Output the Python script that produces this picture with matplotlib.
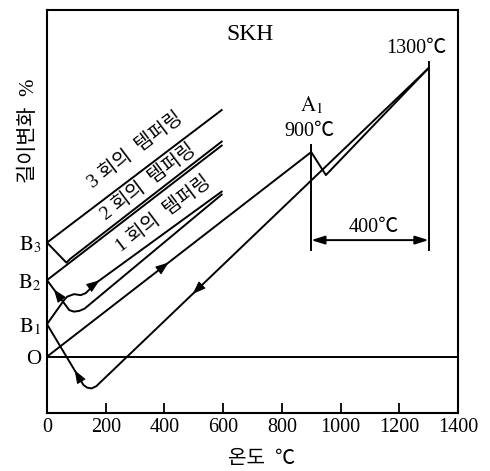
import matplotlib
matplotlib.use("Agg")
import matplotlib.pyplot as plt

plt.rcParams['font.family'] = ['Liberation Serif', 'Noto Sans CJK KR', 'DejaVu Sans']
plt.rcParams['mathtext.fontset'] = 'stix'

# 첫 가열 (O -> A1 -> 1300℃) 과 냉각 (1300℃ -> B1)
heat_T = [0, 900, 950, 1300]
heat_L = [0.0, 4.09, 3.63, 5.77]
cool_T = [1300, 168, 152, 137, 124, 0]
cool_L = [5.77, -0.59, -0.635, -0.62, -0.565, 0.65]

# 1회 템퍼링 (B1 -> 595 -> B2)
t1_heat_T = [0, 58, 69, 92, 115, 132, 149, 166, 595]
t1_heat_L = [0.65, 1.13, 1.20, 1.25, 1.23, 1.27, 1.37, 1.47, 3.30]
t1_cool_T = [595, 128, 110, 92, 76, 0]
t1_cool_L = [3.24, 0.96, 0.915, 0.90, 0.93, 1.53]

# 2회 템퍼링 (B2 -> 595 -> B3)
t2_heat_T = [0, 595]
t2_heat_L = [1.53, 4.22]
t2_cool_T = [595, 78, 66, 0]
t2_cool_L = [4.30, 1.95, 1.88, 2.28]

# 3회 템퍼링
t3_T = [0, 595]
t3_L = [2.28, 4.93]

ylevels = [0.0, 0.65, 1.53, 2.28]
ylabels = ['O', r'$\mathrm{B}_1$', r'$\mathrm{B}_2$', r'$\mathrm{B}_3$']
xticks = [0, 200, 400, 600, 800, 1000, 1200, 1400]

fig = plt.figure(figsize=(4.9, 4.71), dpi=100)
ax = fig.add_axes([0.0959, 0.1238, 0.8388, 0.856])

lw = 1.4
for T, L in [(heat_T, heat_L), (cool_T, cool_L), (t1_heat_T, t1_heat_L),
             (t1_cool_T, t1_cool_L), (t2_heat_T, t2_heat_L),
             (t2_cool_T, t2_cool_L), (t3_T, t3_L)]:
    ax.plot(T, L, color='k', lw=lw, solid_joinstyle='round')

ax.axhline(0, color='k', lw=lw)


def head(p0, p1, frac):
    # 선 위의 화살촉
    x = p0[0] + (p1[0] - p0[0]) * frac
    y = p0[1] + (p1[1] - p0[1]) * frac
    dx = (p1[0] - p0[0]) * 0.01
    dy = (p1[1] - p0[1]) * 0.01
    ax.annotate('', xy=(x + dx, y + dy), xytext=(x, y),
                arrowprops=dict(arrowstyle='-|>,head_length=0.8,head_width=0.3',
                                fc='k', ec='k', lw=0.8, shrinkA=0, shrinkB=0,
                                mutation_scale=10))


head((0, 0.0), (900, 4.09), 0.45)
head((166, 1.47), (595, 3.30), 0.02)
head((76, 0.93), (0, 1.53), 0.68)
head((1300, 5.77), (168, -0.59), 0.70)
head((124, -0.565), (0, 0.65), 0.23)

# 400℃ 치수선
ax.plot([900, 900], [4.23, 2.13], color='k', lw=lw)
ax.plot([1300, 1300], [5.9, 2.13], color='k', lw=lw)
ax.annotate('', xy=(900, 2.33), xytext=(1300, 2.33),
            arrowprops=dict(arrowstyle='<|-|>,head_length=0.8,head_width=0.25',
                            fc='k', ec='k', lw=lw, shrinkA=0, shrinkB=0,
                            mutation_scale=10))

ax.text(691, 6.44, 'SKH', fontsize=17, ha='center', va='center')
ax.text(1259, 6.17, '1300℃', fontsize=14.5, ha='center', va='center')
ax.text(903, 5.03, r'$\mathrm{A}_1$', fontsize=15, ha='center', va='center')
ax.text(893, 4.50, '900℃', fontsize=14.5, ha='center', va='center')
ax.text(1112, 2.58, '400℃', fontsize=14.5, ha='center', va='center')

for T, L, s in [(300, 4.12, '3 회의  템퍼링'), (346, 3.50, '2 회의  템퍼링'),
                (397, 2.86, '1 회의  템퍼링')]:
    ax.text(T, L, s, fontsize=14, rotation=37, rotation_mode='anchor',
            ha='center', va='center')

ax.set_xlim(0, 1400)
ax.set_ylim(-1.12, 6.94)
ax.set_xticks(xticks)
ax.set_xticklabels([str(v) for v in xticks], fontsize=14.5)
ax.set_yticks(ylevels)
ax.set_yticklabels(ylabels, fontsize=15)
ax.tick_params(axis='x', direction='in', length=7, width=1.3, pad=3.5)
ax.tick_params(axis='y', length=0, pad=4)
for sp in ax.spines.values():
    sp.set_linewidth(1.5)

ax.set_xlabel('온도  ℃', fontsize=14.5)
ax.xaxis.set_label_coords(0.523, -0.117)
ax.xaxis.label.set_verticalalignment('center')
ax.set_ylabel('길이변화  %', fontsize=15)
ax.yaxis.set_label_coords(-0.044, 0.70)
ax.yaxis.label.set_verticalalignment('center')

fig.savefig('out.png', dpi=100)
